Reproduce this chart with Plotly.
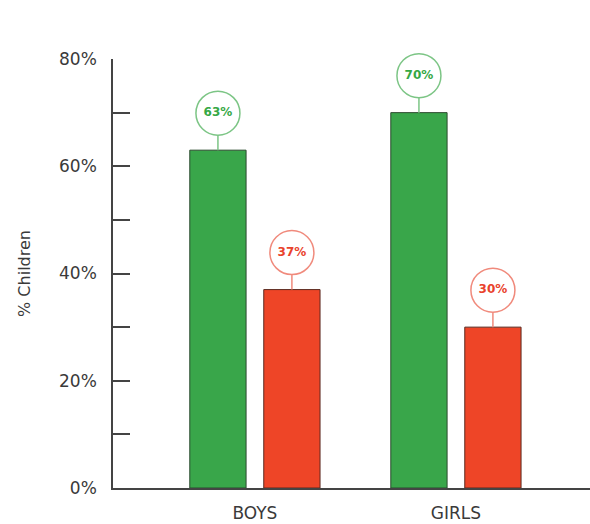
import plotly.graph_objects as go

categories = ["BOYS", "GIRLS"]
green_vals = [63, 70]
red_vals = [37, 30]
y_tickvals = [0, 10, 20, 30, 40, 50, 60, 70, 80]
y_ticktext = ["0%", "", "20%", "", "40%", "", "60%", "", "80%"]

GREEN = "#39a64a"
RED = "#ee4527"
GREEN_TXT = "#35a845"
RED_TXT = "#e9422c"
FONT = "DejaVu Sans"

W, H = 590, 524
ML, MR, MT, MB = 113, 0, 59, 36
YMAX = 80
px_per_unit = (H - MT - MB) / YMAX
OFFSET = 37 / px_per_unit  # circle centre above bar top

xi = list(range(len(categories)))
shift = 0.184
bw = 0.28
xg = [i - shift for i in xi]
xr = [i + shift for i in xi]

fig = go.Figure()
fig.add_bar(x=xg, y=green_vals, width=bw, marker=dict(color=GREEN, line=dict(color="#2b4a2e", width=1)), showlegend=False)
fig.add_bar(x=xr, y=red_vals, width=bw, marker=dict(color=RED, line=dict(color="#5a2a20", width=1)), showlegend=False)

for xs, vals, lc, tc in [(xg, green_vals, "#7cc585", GREEN_TXT), (xr, red_vals, "#f08a7c", RED_TXT)]:
    for x, v in zip(xs, vals):
        fig.add_shape(type="line", xref="x", yref="y", x0=x, x1=x, ysizemode="pixel", yanchor=v, y0=0, y1=15,
                      line=dict(color=lc, width=1.5))
    fig.add_trace(go.Scatter(
        x=xs, y=[v + OFFSET for v in vals], mode="markers+text",
        text=[f"{v}%" for v in vals], textposition="middle center",
        textfont=dict(family=FONT, size=12, color=tc, weight="bold"),
        marker=dict(symbol="circle", size=44, color="white", line=dict(color=lc, width=1.5)),
        cliponaxis=False, showlegend=False, hoverinfo="skip"))

fig.update_layout(
    width=W, height=H, margin=dict(l=ML, r=MR, t=MT, b=MB),
    paper_bgcolor="white", plot_bgcolor="white",
    font=dict(family=FONT, color="#333"),
    xaxis=dict(range=[-0.706, 1.667], tickvals=xi, ticktext=categories, showgrid=False, zeroline=False,
               showline=True, linecolor="#444", linewidth=1.5, ticks="", ticklabelstandoff=9,
               automargin=False,
               tickfont=dict(family=FONT, size=17, color="#3a3a3a")),
    yaxis=dict(range=[0, YMAX], tickvals=y_tickvals, ticktext=y_ticktext, showgrid=False, zeroline=False,
               showline=True, linecolor="#444", linewidth=1.5, ticks="inside", ticklen=17, tickwidth=1.5,
               tickcolor="#444", ticklabelstandoff=11,
               tickfont=dict(family=FONT, size=17, color="#3a3a3a")),
)
fig.update_yaxes(title=dict(text="% Children", font=dict(family=FONT, size=16, color="#3a3a3a"), standoff=24))

fig.write_html("out.html")
